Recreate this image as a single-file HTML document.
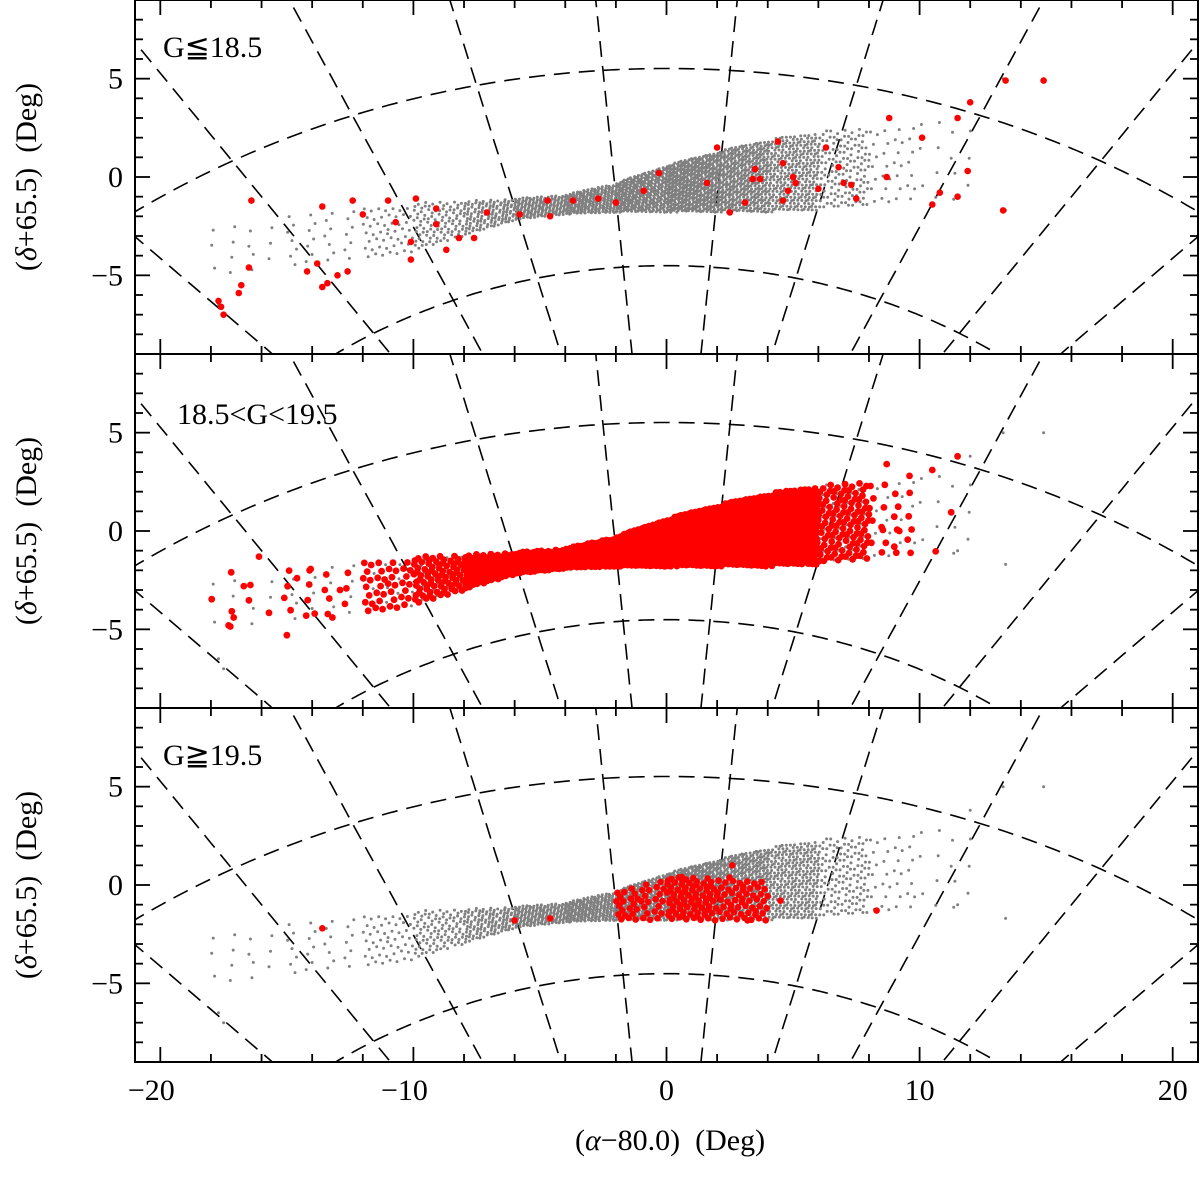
<!DOCTYPE html>
<html><head><meta charset="utf-8"><style>
html,body{margin:0;padding:0;background:#fff;overflow:hidden;width:1200px;height:1177px;}
svg{display:block;}
svg text{font-family:"Liberation Serif","DejaVu Serif",serif;fill:#000;}
</style></head><body>
<svg id="chart" width="1200" height="1177" viewBox="0 0 1200 1177" xmlns="http://www.w3.org/2000/svg"></svg>
<script>
// ---- data ----
const xTicks = [-20,-10,0,10,20];
const yTicks = [-5,0,5];
const panelLabels = ["G\u226618.5","18.5<G<19.5","G\u226719.5"];
// gray envelope: x knots, lower/upper y edges, counts per segment
const envX    = [-18, -15, -12, -10, -8, -6, -4, -2, 0, 2, 4, 6, 8, 10, 12.5];
const envLow  = [-5.2,-4.6,-4.2,-3.8,-3.0,-2.2,-1.9,-1.8,-1.8,-1.8,-1.8,-1.7,-1.4,-1.3,-1.5];
const envHigh = [-2.5,-1.8,-1.4,-1.3,-1.2,-1.1,-0.9,-0.3,0.6,1.3,1.9,2.3,2.6,3.0,3.6];
const grayCounts = [14,28,50,100,130,170,240,360,450,430,320,140,35,14];
const grayExtra = [[13.3,5.0],[14.9,5.0],[-17.7,-6.5],[-17.5,-7.0],[13.4,-1.7],[11.5,-1.0],[12.0,3.8]];
const redTop = [[-17.7,-6.3],[-17.6,-6.6],[-17.5,-7.0],[-16.5,-4.6],[-16.8,-5.5],[-16.9,-5.9],[-16.4,-1.2],
 [-14.2,-4.8],[-13.8,-4.4],[-13.6,-5.6],[-13.4,-5.4],[-13.0,-5.0],[-12.6,-4.8],[-13.6,-1.5],[-12.4,-1.2],
 [-12.0,-1.9],[-11.0,-1.2],[-10.7,-2.3],[-10.1,-3.3],[-10.1,-4.2],[-9.9,-1.1],[-9.1,-1.6],[-9.1,-2.4],
 [-8.7,-3.7],[-8.2,-3.1],[-7.6,-3.1],[-7.1,-1.8],[-5.8,-1.9],[-4.7,-1.2],[-4.6,-2.0],[-3.7,-1.2],
 [-2.7,-1.1],[-2.0,-1.3],[-0.9,-0.7],[-0.3,0.2],[1.6,-0.3],[2.0,1.5],[2.5,-1.8],[3.1,-1.3],[3.4,-0.1],
 [3.5,0.4],[3.7,-0.1],[4.4,1.8],[4.6,0.7],[4.8,-0.7],[5.0,0],[5.1,-0.3],[4.6,-1.2],[6.0,-0.6],[6.3,1.5],
 [6.8,0.5],[7.0,-0.3],[7.3,-0.4],[7.5,-1.1],[8.7,0],[8.8,3.0],[10.1,2.0],[10.5,-1.4],[10.8,-0.8],
 [11.5,3.0],[11.5,-1.0],[11.9,0.3],[12.0,3.8],[13.4,4.9],[13.3,-1.7],[14.9,4.9]];
const redMidCounts = [6,14,40,80,110,150,220,330,420,400,300,110,20,2];
const redMidExtra = [[-17.3,-4.8],[-17.1,-4.4],[-17.2,-2.1],[-16.7,-2.8],[-16.1,-1.3],[-15.0,-5.3],[-15.1,-3.4],
 [-14.6,-2.4],[-14.1,-2.0],[-13.9,-4.2],[-13.2,-4.4],[-12.9,-3.0],[8.5,0.2],[9.2,0],[9.0,-0.8],[10.5,3.1],[11.5,3.8],[9.6,2.8],[8.7,3.4]];
const redBotCounts = [0,0,0,0,0,0,0,40,80,55,0,0,0,0];
const redBotExtra = [[-13.6,-2.2],[8.3,-1.3],[4.5,-0.8],[-4.6,-1.7],[-6,-1.8],[2.6,1.0],[0.6,0.4],[3.2,-1.8]];

// ---- layout ----
const NS="http://www.w3.org/2000/svg";
const svg=document.getElementById('chart');
const L=135,R=1198,X0=-21,X1=21;
const panelTops=[0,354,708],PH=354,Y0=-9,Y1=9;
const sx=x=>L+(x-X0)/(X1-X0)*(R-L);
function mk(tag,attrs,parent){const e=document.createElementNS(NS,tag);for(const k in attrs)e.setAttribute(k,attrs[k]);(parent||svg).appendChild(e);return e;}
const D=Math.PI/180,a0=80*D,d0=-65.5*D;
function proj(a,d){a*=D;d*=D;const c=Math.sin(d0)*Math.sin(d)+Math.cos(d0)*Math.cos(d)*Math.cos(a-a0);
 if(c<0.15)return null;
 return [Math.cos(d)*Math.sin(a-a0)/c/D,(Math.cos(d0)*Math.sin(d)-Math.sin(d0)*Math.cos(d)*Math.cos(a-a0))/c/D];}
function envPts(counts,yMaxClip){const out=[];counts.forEach((n,s)=>{
 const xa=envX[s],xb=envX[s+1];
 for(let i=0;i<n;i++){const u=(0.5+i*0.7548776662)%1,v=(0.5+i*0.5698402910)%1;
  const x=xa+u*(xb-xa);
  const lo=envLow[s]+u*(envLow[s+1]-envLow[s]),hi=envHigh[s]+u*(envHigh[s+1]-envHigh[s]);
  let h=hi; if(yMaxClip!==undefined) h=Math.min(hi,yMaxClip);
  out.push([x,lo+v*(h-lo)]);}});return out;}

const defs=mk('defs',{});
panelTops.forEach((top,pi)=>{
 const sy=y=>top+(Y1-y)/(Y1-Y0)*PH;
 const cp=mk('clipPath',{id:'cp'+pi},defs);mk('rect',{x:L,y:top,width:R-L,height:PH},cp);
 const g=mk('g',{'clip-path':'url(#cp'+pi+')'});
 
 
 const gg=mk('g',{fill:'none',stroke:'#000','stroke-width':1.6,'stroke-dasharray':'16,9'},g);
 
 
 for(let a=5;a<360;a+=10){let s='';for(let d=-89.5;d<=-20;d+=0.5){const p=proj(a,d);if(!p)continue;s+=(s?'L':'M')+sx(p[0]).toFixed(1)+','+sy(p[1]).toFixed(1);}
  if(s){const m=mk('path',{d:s},gg);}}
 for(let d=-40;d>=-80;d-=10){let s='';for(let a=-10;a<=170;a+=0.5){const p=proj(a,d);if(!p)continue;s+=(s?'L':'M')+sx(p[0]).toFixed(1)+','+sy(p[1]).toFixed(1);}
  const m=mk('path',{d:s},gg);}
 const gray=envPts(grayCounts).concat(grayExtra);
 const grp=mk('g',{fill:'#808080'},g);
 
 
 gray.forEach(p=>{mk('circle',{cx:sx(p[0]).toFixed(1),cy:sy(p[1]).toFixed(1),r:1.5},grp);});
 let red=pi===0?redTop:pi===1?envPts(redMidCounts).concat(redMidExtra):envPts(redBotCounts,0.4).concat(redBotExtra);
 const rg=mk('g',{fill:'#ff0000'},g);
 
 
 red.forEach(p=>{mk('circle',{cx:sx(p[0]).toFixed(1),cy:sy(p[1]).toFixed(1),r:pi===1?3.4:3.3},rg);});
 const f=mk('rect',{x:L,y:top,width:R-L,height:PH,fill:'none',stroke:'#000','stroke-width':2});
 
 
 const tk=mk('g',{stroke:'#000','stroke-width':1.8});
 
 
 for(let x=-20;x<=20;x+=2){const maj=x%10===0,l=maj?15:8,X=sx(x);
  mk('line',{x1:X,y1:top,x2:X,y2:top+l},tk);mk('line',{x1:X,y1:top+PH,x2:X,y2:top+PH-l},tk);}
 for(let y=-8;y<=8;y++){const maj=y%5===0,l=maj?15:8,Y=sy(y);
  mk('line',{x1:L,y1:Y,x2:L+l,y2:Y},tk);mk('line',{x1:R,y1:Y,x2:R-l,y2:Y},tk);}
 yTicks.forEach(y=>{const t=mk('text',{x:L-12,y:sy(y)+10,'text-anchor':'end','font-size':30});t.textContent=(y<0?'\u2212':'')+Math.abs(y);
  });
 const yl=mk('text',{transform:`translate(36,${top+177}) rotate(-90)`,'text-anchor':'middle','font-size':30});
 yl.innerHTML='(<tspan font-style="italic">\u03B4</tspan>+65.5)\u00A0\u00A0(Deg)';
 
 const pl=mk('text',{x:pi===1?177:163,y:top+(pi===1?70:57),'font-size':30});pl.textContent=panelLabels[pi];
 
});
xTicks.forEach(x=>{const t=mk('text',{x:sx(x)-(x<0?9:0),y:1100,'text-anchor':'middle','font-size':30});t.textContent=(x<0?'\u2212':'')+Math.abs(x);
 });
const xl=mk('text',{x:670,y:1150,'text-anchor':'middle','font-size':30});
xl.innerHTML='(<tspan font-style="italic">\u03B1</tspan>\u221280.0)\u00A0\u00A0(Deg)';

</script>
</body></html>
